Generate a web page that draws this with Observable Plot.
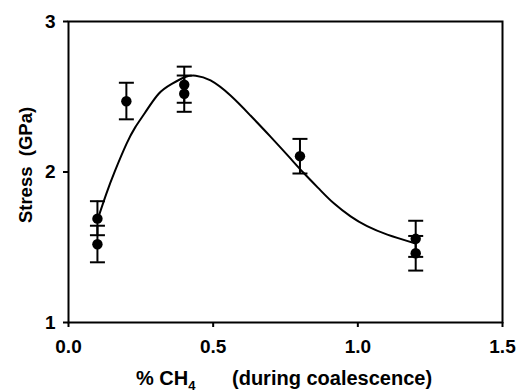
<!DOCTYPE html>
<html><head><meta charset="utf-8">
<script src="https://cdn.jsdelivr.net/npm/d3@7"></script>
<script src="https://cdn.jsdelivr.net/npm/@observablehq/plot@0.6"></script>
<style>
html,body{margin:0;padding:0;background:#fff;}
svg{font-family:"Liberation Sans",Arial,sans-serif;font-weight:bold;}
</style></head>
<body><div id="chart"></div>
<script>
// measured points
const ch4 = [0.1, 0.1, 0.2, 0.4, 0.4, 0.8, 1.2, 1.2];
const stress = [1.69, 1.52, 2.47, 2.58, 2.52, 2.105, 1.556, 1.46];
const errLow = [1.58, 1.40, 2.35, 2.46, 2.40, 1.99, 1.436, 1.345];
const errHigh = [1.806, 1.643, 2.593, 2.70, 2.641, 2.22, 1.676, 1.575];
// fitted curve
const fitX = [0.1, 0.13, 0.16, 0.2, 0.23, 0.265, 0.311, 0.357, 0.403, 0.44, 0.491, 0.56, 0.629, 0.698, 0.767, 0.813, 0.871, 0.917, 0.975, 1.032, 1.102, 1.2];
const fitY = [1.68, 1.851, 2.004, 2.185, 2.295, 2.395, 2.518, 2.585, 2.631, 2.64, 2.608, 2.508, 2.375, 2.235, 2.09, 1.993, 1.878, 1.792, 1.705, 1.64, 1.584, 1.525];
const xTicks = [0, 0.5, 1.0, 1.5];
const yTicks = [1, 2, 3];

const pts = ch4.map((x, i) => ({x, y: stress[i], lo: errLow[i], hi: errHigh[i]}));
const fit = fitX.map((x, i) => ({x, y: fitY[i]}));
const caps = pts.flatMap(d => [{x: d.x, y: d.lo}, {x: d.x, y: d.hi}]);

const capSymbol = {draw(ctx, size) { const w = 7.5; ctx.moveTo(-w, 0); ctx.lineTo(w, 0); }};

const plot = Plot.plot({
  width: 517, height: 392,
  marginLeft: 68, marginRight: 15, marginTop: 21, marginBottom: 70,
  style: {fontFamily: '"Liberation Sans", Arial, sans-serif', fontWeight: "bold", fontSize: "19px", color: "#000", background: "#fff"},
  x: {domain: [0, 1.5], label: null},
  y: {domain: [1, 3], label: null},
  marks: [
    Plot.frame({stroke: "#000", strokeWidth: 2}),
    Plot.ruleX(pts, {x: "x", y1: "lo", y2: "hi", stroke: "#000", strokeWidth: 2}),
    Plot.dot(caps, {x: "x", y: "y", symbol: capSymbol, stroke: "#000", strokeWidth: 2, r: 5}),
    Plot.line(fit, {x: "x", y: "y", curve: "natural", stroke: "#000", strokeWidth: 2}),
    Plot.dot(pts, {x: "x", y: "y", r: 5.2, fill: "#000", stroke: "none"}),
    Plot.axisX({ticks: xTicks, tickFormat: d3.format(".1f"), tickSize: 5, tickPadding: 12, strokeWidth: 2, fontSize: 19, label: null}),
    Plot.axisY({ticks: yTicks, tickFormat: d3.format("d"), tickSize: 5, tickPadding: 8, strokeWidth: 2, fontSize: 19, label: null})
  ]
});
document.getElementById("chart").appendChild(plot);

const svg = d3.select(plot);
// x-axis title with subscript
const xt = svg.append("text")
  .attr("y", 385)
  .attr("text-anchor", "start")
  .attr("font-size", 20).attr("font-weight", "bold").attr("fill", "#000");
xt.append("tspan").attr("x", 136).text("% CH");
xt.append("tspan").attr("font-size", 13).attr("dy", 5).text("4");
xt.append("tspan").attr("x", 232).attr("dy", -5).text("(during coalescence)");
// y-axis title
svg.append("text")
  .attr("transform", "translate(32,165) rotate(-90)")
  .attr("text-anchor", "middle")
  .attr("font-size", 18.5).attr("font-weight", "bold").attr("fill", "#000")
  .attr("xml:space", "preserve")
  .text("Stress  (GPa)");
</script>
</body></html>
